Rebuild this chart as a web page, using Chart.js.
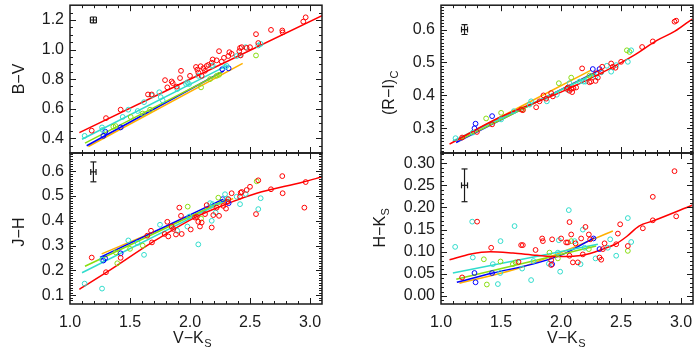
<!DOCTYPE html>
<html><head><meta charset="utf-8">
<script src="https://cdn.jsdelivr.net/npm/chart.js@4.4.1/dist/chart.umd.min.js"></script>
<style>
html,body{margin:0;padding:0;background:#fff;}
#wrap{position:relative;width:700px;height:350px;overflow:hidden;}
#wrap canvas{position:absolute;left:0;top:0;}
</style>
</head><body>
<div id="wrap">
<canvas id="cBV" width="700" height="350"></canvas>
<canvas id="cJH" width="700" height="350"></canvas>
<canvas id="cRI" width="700" height="350"></canvas>
<canvas id="cHK" width="700" height="350"></canvas>
</div>
<script>
// ---------- axis ticks ----------
const X_TICKS = [1.0, 1.5, 2.0, 2.5, 3.0];
const BV_TICKS = [0.4, 0.6, 0.8, 1.0, 1.2];
const JH_TICKS = [0.1, 0.2, 0.3, 0.4, 0.5, 0.6];
const RI_TICKS = [0.3, 0.4, 0.5, 0.6];
const HK_TICKS = [0.00, 0.05, 0.10, 0.15, 0.20, 0.25, 0.30];

// ---------- B-V vs V-Ks ----------
const BV_RED = [[1.181,0.451],[1.300,0.536],[1.422,0.593],[1.650,0.696],[1.681,0.696],[1.792,0.793],[1.811,0.744],[1.847,0.784],[1.856,0.773],[1.889,0.749],[1.917,0.807],[1.925,0.856],[2.000,0.822],[2.050,0.882],[2.061,0.864],[2.069,0.844],[2.089,0.887],[2.097,0.822],[2.111,0.873],[2.125,0.856],[2.139,0.889],[2.153,0.896],[2.181,0.911],[2.189,0.933],[2.222,0.927],[2.242,0.989],[2.264,0.918],[2.283,0.944],[2.319,0.956],[2.328,0.982],[2.347,0.971],[2.411,0.989],[2.417,1.011],[2.431,1.016],[2.472,1.011],[2.500,1.016],[2.550,1.104],[2.569,1.044],[2.675,1.133],[2.769,1.129],[2.772,1.116],[2.944,1.189],[2.964,1.218],[2.422,0.960]];
const BV_CYAN = [[1.122,0.416],[1.267,0.473],[1.272,0.456],[1.439,0.544],[1.486,0.593],[1.564,0.584],[1.617,0.644],[1.681,0.689],[1.744,0.711],[1.756,0.678],[1.772,0.656],[1.894,0.733],[1.967,0.767],[1.978,0.778],[1.992,0.767],[2.069,0.822],[2.181,0.889],[2.189,0.893],[2.292,0.882],[2.306,0.889],[2.389,0.956],[2.417,0.962],[2.464,1.016],[2.569,1.027],[2.589,1.038]];
const BV_GREEN = [[1.361,0.478],[1.381,0.482],[1.506,0.544],[1.606,0.567],[1.667,0.593],[2.092,0.744],[2.167,0.800],[2.222,0.822],[2.242,0.829],[2.550,0.960]];
const BV_BLUE = [[1.278,0.416],[1.294,0.444],[1.422,0.473],[2.269,0.867],[2.322,0.873]];
const BV_FIT_RED = [[1.078,0.438],[3.100,1.229]];
const BV_FIT_CYAN = [[1.100,0.393],[2.311,0.893]];
const BV_FIT_GREEN = [[1.125,0.367],[2.264,0.844]];
const BV_FIT_BLUE = [[1.139,0.349],[2.280,0.855]];
const BV_FIT_ORANGE = [[1.153,0.344],[2.439,0.907]];
const BV_ERR = [1.195, 1.200, 0.025, 0.020];

// ---------- J-H vs V-Ks ----------
const JH_RED = [[1.181,0.252],[1.300,0.193],[1.422,0.251],[1.644,0.340],[1.675,0.360],[1.683,0.313],[1.789,0.347],[1.811,0.396],[1.819,0.337],[1.847,0.377],[1.861,0.367],[1.883,0.345],[1.911,0.453],[1.925,0.420],[1.931,0.347],[2.006,0.365],[2.042,0.413],[2.056,0.416],[2.069,0.396],[2.083,0.377],[2.097,0.393],[2.125,0.427],[2.139,0.463],[2.181,0.373],[2.194,0.423],[2.222,0.453],[2.242,0.420],[2.278,0.460],[2.300,0.449],[2.311,0.476],[2.319,0.487],[2.347,0.511],[2.417,0.497],[2.422,0.513],[2.431,0.516],[2.472,0.524],[2.500,0.537],[2.550,0.427],[2.569,0.563],[2.675,0.527],[2.769,0.580],[2.772,0.511],[2.953,0.453],[2.964,0.556]];
const JH_CYAN = [[1.122,0.147],[1.267,0.127],[1.267,0.244],[1.486,0.321],[1.564,0.311],[1.617,0.263],[1.750,0.384],[1.894,0.360],[1.978,0.377],[1.994,0.417],[2.069,0.305],[2.167,0.471],[2.181,0.400],[2.189,0.467],[2.214,0.433],[2.292,0.507],[2.306,0.489],[2.389,0.497],[2.417,0.467],[2.464,0.508],[2.569,0.447],[2.589,0.491]];
const JH_GREEN = [[1.381,0.273],[1.394,0.229],[1.500,0.287],[1.606,0.300],[1.981,0.457],[2.092,0.409],[2.236,0.493],[2.556,0.559]];
const JH_BLUE = [[1.278,0.240],[1.292,0.249],[1.422,0.269],[2.272,0.487],[2.322,0.471]];
const JH_FIT_RED = [[1.078,0.124],[1.306,0.193],[1.694,0.316],[2.056,0.417],[2.333,0.473],[2.556,0.511],[2.944,0.556],[3.100,0.577]];
const JH_FIT_CYAN = [[1.100,0.191],[2.320,0.487]];
const JH_FIT_GREEN = [[1.125,0.217],[2.306,0.487]];
const JH_FIT_BLUE = [[1.250,0.253],[2.278,0.487]];
const JH_FIT_ORANGE = [[1.264,0.267],[2.360,0.490]];
const JH_ERR = [1.195, 0.597, 0.022, 0.040];

// ---------- (R-I)c vs V-Ks ----------
const RI_RED = [[1.176,0.272],[1.299,0.289],[1.426,0.312],[1.668,0.357],[1.682,0.355],[1.793,0.364],[1.821,0.382],[1.854,0.400],[1.876,0.390],[1.918,0.407],[1.932,0.397],[2.049,0.420],[2.057,0.424],[2.071,0.414],[2.085,0.420],[2.093,0.410],[2.104,0.422],[2.126,0.424],[2.176,0.482],[2.237,0.440],[2.251,0.442],[2.288,0.444],[2.293,0.467],[2.307,0.454],[2.335,0.472],[2.343,0.487],[2.418,0.497],[2.432,0.487],[2.454,0.484],[2.501,0.502],[2.676,0.547],[2.765,0.564],[2.946,0.624],[2.960,0.627]];
const RI_CYAN = [[1.121,0.270],[1.265,0.287],[1.501,0.327],[1.607,0.352],[1.738,0.372],[1.751,0.382],[1.882,0.382],[1.965,0.402],[2.057,0.417],[2.071,0.437],[2.154,0.442],[2.188,0.442],[2.204,0.442],[2.288,0.457],[2.335,0.470],[2.382,0.490],[2.418,0.472],[2.460,0.492],[2.557,0.502],[2.585,0.537]];
const RI_GREEN = [[1.376,0.330],[1.501,0.347],[1.682,0.357],[1.982,0.437],[2.085,0.454],[2.237,0.460],[2.549,0.537],[2.571,0.532]];
const RI_BLUE = [[1.288,0.314],[1.279,0.300],[1.426,0.337],[2.265,0.480],[2.321,0.480]];
const RI_FIT_RED = [[1.071,0.252],[1.500,0.335],[2.000,0.410],[2.400,0.480],[2.600,0.520],[2.800,0.567],[2.950,0.595],[3.093,0.632]];
const RI_FIT_CYAN = [[1.099,0.262],[2.293,0.467]];
const RI_FIT_GREEN = [[1.154,0.264],[2.279,0.467]];
const RI_FIT_BLUE = [[1.126,0.257],[2.321,0.477]];
const RI_FIT_ORANGE = [[1.168,0.272],[2.251,0.477]];
const RI_ERR = [1.196, 0.600, 0.025, 0.015];

// ---------- H-Ks vs V-Ks ----------
const HK_RED = [[1.176,0.042],[1.301,0.168],[1.418,0.109],[1.646,0.077],[1.668,0.115],[1.682,0.115],[1.788,0.104],[1.843,0.130],[1.849,0.124],[1.918,0.081],[1.918,0.070],[1.926,0.128],[2.001,0.130],[2.043,0.121],[2.057,0.121],[2.071,0.167],[2.071,0.091],[2.085,0.139],[2.099,0.076],[2.121,0.119],[2.140,0.076],[2.168,0.130],[2.182,0.094],[2.204,0.156],[2.232,0.139],[2.243,0.128],[2.321,0.087],[2.335,0.082],[2.349,0.106],[2.363,0.119],[2.460,0.117],[2.474,0.141],[2.493,0.162],[2.557,0.113],[2.682,0.153],[2.765,0.224],[2.765,0.171],[2.946,0.282],[2.960,0.180]];
const HK_CYAN = [[1.118,0.111],[1.260,0.168],[1.265,0.087],[1.432,0.072],[1.474,0.027],[1.496,0.124],[1.493,0.052],[1.613,0.158],[1.676,0.062],[1.751,0.036],[1.771,0.079],[1.899,0.073],[1.974,0.098],[1.982,0.126],[1.993,0.055],[2.065,0.194],[2.113,0.124],[2.163,0.072],[2.182,0.150],[2.196,0.109],[2.288,0.085],[2.390,0.109],[2.410,0.128],[2.460,0.091],[2.557,0.176],[2.585,0.122]];
const HK_GREEN = [[1.357,0.083],[1.382,0.026],[1.496,0.078],[1.599,0.072],[1.621,0.076],[1.904,0.098],[1.974,0.085],[2.085,0.124],[2.232,0.106],[2.557,0.102]];
const HK_BLUE = [[1.279,0.052],[1.288,0.031],[1.426,0.052],[1.926,0.072],[2.271,0.130],[2.321,0.106]];
const HK_FIT_RED = [[1.071,0.082],[1.250,0.095],[1.410,0.100],[1.600,0.097],[1.800,0.092],[1.990,0.089],[2.180,0.092],[2.350,0.106],[2.460,0.118],[2.550,0.135],[2.650,0.158],[2.770,0.170],[3.093,0.205]];
const HK_FIT_CYAN = [[1.099,0.052],[2.307,0.117]];
const HK_FIT_GREEN = [[1.127,0.038],[2.293,0.113]];
const HK_FIT_BLUE = [[1.132,0.031],[1.432,0.052],[1.765,0.072],[2.015,0.094],[2.279,0.132]];
const HK_FIT_ORANGE = [[1.154,0.029],[1.626,0.061],[1.960,0.094],[2.432,0.147]];
const HK_ERR = [1.196, 0.250, 0.025, 0.037];

// ---------- styling ----------
const FONT = "'Liberation Sans', Arial, sans-serif";
const INK = '#1a1a1a';
const C_RED = '#ff0000', C_CYAN = '#30dccc', C_GREEN = '#88dd11', C_BLUE = '#0000ff', C_ORANGE = '#ffb000';
Chart.defaults.font.family = FONT;
Chart.defaults.font.size = 16;
Chart.defaults.color = INK;

const toXY = a => a.map(p => ({x: p[0], y: p[1]}));

function stepLoop(min, max, step, fn) {
  const i0 = Math.ceil(min / step - 1e-6), i1 = Math.floor(max / step + 1e-6);
  for (let i = i0; i <= i1; i++) fn(i * step);
}

function drawTitle(ctx, main, sub, cx, cy, rot) {
  ctx.save();
  ctx.translate(cx, cy);
  ctx.rotate(rot);
  ctx.fillStyle = INK;
  ctx.textBaseline = 'middle';
  ctx.textAlign = 'left';
  ctx.font = '16px ' + FONT;
  const w1 = ctx.measureText(main).width;
  ctx.font = '11px ' + FONT;
  const w2 = sub ? ctx.measureText(sub).width : 0;
  const x0 = -(w1 + w2) / 2;
  ctx.font = '16px ' + FONT;
  ctx.fillText(main, x0, 0);
  if (sub) { ctx.font = '11px ' + FONT; ctx.fillText(sub, x0 + w1 + 0.5, 4.5); }
  ctx.restore();
}

const framePlugin = {
  id: 'frame',
  afterDraw(chart) {
    const o = chart.options.plugins.frame;
    const {ctx, chartArea: a} = chart;
    const xs = chart.scales.x, ys = chart.scales.y;
    ctx.save();
    ctx.strokeStyle = INK;
    ctx.lineWidth = 1;
    ctx.beginPath();
    const tickX = (v, len) => {
      const p = Math.round(xs.getPixelForValue(v)) + 0.5;
      if (p < a.left + 1 || p > a.right - 1) return;
      ctx.moveTo(p, a.bottom); ctx.lineTo(p, a.bottom - len);
      ctx.moveTo(p, a.top); ctx.lineTo(p, a.top + len);
    };
    const tickY = (v, len) => {
      const p = Math.round(ys.getPixelForValue(v)) + 0.5;
      if (p < a.top + 1 || p > a.bottom - 1) return;
      ctx.moveTo(a.left, p); ctx.lineTo(a.left + len, p);
      ctx.moveTo(a.right, p); ctx.lineTo(a.right - len, p);
    };
    stepLoop(xs.min, xs.max, o.xMinor, v => tickX(v, 3));
    X_TICKS.forEach(v => tickX(v, 6));
    stepLoop(ys.min, ys.max, o.yMinor, v => tickY(v, 3));
    o.yTicks.forEach(v => tickY(v, 6));
    ctx.stroke();
    ctx.lineWidth = 1.5;
    ctx.strokeRect(a.left, a.top, a.right - a.left, a.bottom - a.top);
    ctx.restore();
    drawTitle(ctx, o.yTitle[0], o.yTitle[1], o.yTitlePos[0], o.yTitlePos[1], -Math.PI / 2);
    if (o.xTitle) drawTitle(ctx, o.xTitle[0], o.xTitle[1], o.xTitlePos[0], o.xTitlePos[1], 0);
  }
};

function makePanel(id, spec) {
  const ds = [];
  spec.points.forEach(([d, c]) => ds.push({
    data: toXY(d), showLine: false, borderColor: c, backgroundColor: 'rgba(0,0,0,0)',
    pointRadius: 2.4, pointBorderWidth: 1, pointHoverRadius: 2.4
  }));
  spec.fits.forEach(([d, c]) => ds.push({
    data: toXY(d), showLine: true, borderColor: c, borderWidth: 1.5, pointRadius: 0,
    fill: false, cubicInterpolationMode: 'monotone'
  }));
  const [ex, ey, hx, hy] = spec.err;
  ds.push({data: [{x: ex, y: ey - hy}, {x: ex, y: ey + hy}], showLine: true, borderColor: INK, borderWidth: 1.2,
    pointStyle: 'line', pointRadius: 3, pointBorderWidth: 1.2, pointBorderColor: INK});
  ds.push({data: [{x: ex - hx, y: ey}, {x: ex + hx, y: ey}], showLine: true, borderColor: INK, borderWidth: 1.2,
    pointStyle: 'line', rotation: 90, pointRadius: 3, pointBorderWidth: 1.2, pointBorderColor: INK});

  return new Chart(document.getElementById(id), {
    type: 'scatter',
    data: {datasets: ds},
    plugins: [framePlugin],
    options: {
      responsive: false, animation: false, devicePixelRatio: 1,
      events: [],
      layout: {padding: {left: 0, top: spec.top, right: spec.right, bottom: 0}},
      plugins: {
        legend: {display: false}, tooltip: {enabled: false},
        frame: {yTicks: spec.yTicks, yMinor: spec.yMinor, xMinor: 0.1,
                yTitle: spec.yTitle, yTitlePos: spec.yTitlePos,
                xTitle: spec.xTitle, xTitlePos: spec.xTitlePos}
      },
      scales: {
        x: {
          type: 'linear', position: 'bottom', min: 1.0, max: 3.1,
          grid: {display: false, drawTicks: false}, border: {display: false},
          ticks: {display: spec.showX, padding: 9, maxRotation: 0, autoSkip: false,
                  callback: v => Number(v).toFixed(1)},
          afterBuildTicks: s => { s.ticks = X_TICKS.map(v => ({value: v})); },
          afterFit: s => { s.height = spec.xh; s.paddingLeft = 0; s.paddingRight = 0; s.paddingTop = 0; s.paddingBottom = 0; }
        },
        y: {
          type: 'linear', position: 'left', min: spec.yMin, max: spec.yMax,
          grid: {display: false, drawTicks: false}, border: {display: false},
          ticks: {padding: 6, autoSkip: false, callback: v => Number(v).toFixed(spec.dec)},
          afterBuildTicks: s => { s.ticks = spec.yTicks.map(v => ({value: v})); },
          afterFit: s => { s.width = spec.yw; s.paddingLeft = 0; s.paddingRight = 0; s.paddingTop = 0; s.paddingBottom = 0; }
        }
      }
    }
  });
}

makePanel('cBV', {
  top: 3, right: 378, yw: 70, xh: 197, showX: false,
  yMin: 0.3, yMax: 1.3, yTicks: BV_TICKS, yMinor: 0.05, dec: 1,
  yTitle: ['B\u2212V', ''], yTitlePos: [20, 79],
  points: [[BV_RED, C_RED], [BV_CYAN, C_CYAN], [BV_GREEN, C_GREEN], [BV_BLUE, C_BLUE]],
  fits: [[BV_FIT_RED, C_RED], [BV_FIT_CYAN, C_CYAN], [BV_FIT_GREEN, C_GREEN], [BV_FIT_BLUE, C_BLUE], [BV_FIT_ORANGE, C_ORANGE]],
  err: BV_ERR
});
makePanel('cJH', {
  top: 153, right: 378, yw: 70, xh: 46, showX: true,
  yMin: 0.065, yMax: 0.673, yTicks: JH_TICKS, yMinor: 0.01, dec: 1,
  yTitle: ['J\u2212H', ''], yTitlePos: [20, 232],
  xTitle: ['V\u2212K', 'S'], xTitlePos: [192, 339],
  points: [[JH_RED, C_RED], [JH_CYAN, C_CYAN], [JH_GREEN, C_GREEN], [JH_BLUE, C_BLUE]],
  fits: [[JH_FIT_RED, C_RED], [JH_FIT_CYAN, C_CYAN], [JH_FIT_GREEN, C_GREEN], [JH_FIT_BLUE, C_BLUE], [JH_FIT_ORANGE, C_ORANGE]],
  err: JH_ERR
});
makePanel('cRI', {
  top: 3, right: 7, yw: 441, xh: 197, showX: false,
  yMin: 0.225, yMax: 0.674, yTicks: RI_TICKS, yMinor: 0.01, dec: 1,
  yTitle: ['(R\u2212I)', 'C'], yTitlePos: [390, 93],
  points: [[RI_RED, C_RED], [RI_CYAN, C_CYAN], [RI_GREEN, C_GREEN], [RI_BLUE, C_BLUE]],
  fits: [[RI_FIT_RED, C_RED], [RI_FIT_CYAN, C_CYAN], [RI_FIT_GREEN, C_GREEN], [RI_FIT_BLUE, C_BLUE], [RI_FIT_ORANGE, C_ORANGE]],
  err: RI_ERR
});
makePanel('cHK', {
  top: 153, right: 7, yw: 441, xh: 46, showX: true,
  yMin: -0.018, yMax: 0.323, yTicks: HK_TICKS, yMinor: 0.01, dec: 2,
  yTitle: ['H\u2212K', 'S'], yTitlePos: [381, 228],
  xTitle: ['V\u2212K', 'S'], xTitlePos: [566, 339],
  points: [[HK_RED, C_RED], [HK_CYAN, C_CYAN], [HK_GREEN, C_GREEN], [HK_BLUE, C_BLUE]],
  fits: [[HK_FIT_RED, C_RED], [HK_FIT_CYAN, C_CYAN], [HK_FIT_GREEN, C_GREEN], [HK_FIT_BLUE, C_BLUE], [HK_FIT_ORANGE, C_ORANGE]],
  err: HK_ERR
});
</script>
</body></html>
